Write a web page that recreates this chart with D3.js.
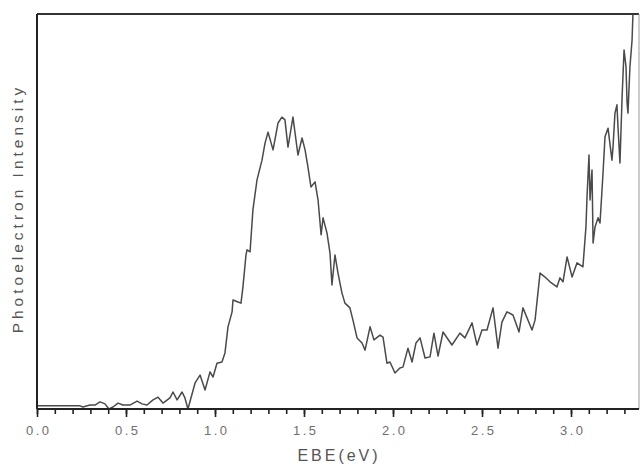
<!DOCTYPE html>
<html>
<head>
<meta charset="utf-8">
<script src="https://cdn.jsdelivr.net/npm/d3@7"></script>
<style>
body{margin:0;background:#fff}
svg text{font-family:"Liberation Sans",Arial,sans-serif}
</style>
</head>
<body>
<div id="chart"></div>
<script>

// binding energy (eV)
const ebe = [0.000,0.242,0.258,0.298,0.326,0.354,0.382,0.404,0.427,0.455,0.483,0.522,0.562,0.590,0.618,0.652,0.680,0.708,0.747,0.764,0.787,0.815,0.831,0.848,0.888,0.916,0.944,0.972,0.989,1.011,1.039,1.056,1.073,1.096,1.101,1.129,1.146,1.157,1.174,1.180,1.197,1.213,1.236,1.264,1.281,1.298,1.326,1.354,1.376,1.393,1.410,1.438,1.466,1.489,1.506,1.522,1.539,1.562,1.579,1.596,1.607,1.629,1.646,1.657,1.674,1.691,1.713,1.730,1.758,1.775,1.798,1.826,1.843,1.871,1.893,1.927,1.944,1.966,1.983,2.011,2.039,2.056,2.084,2.107,2.129,2.152,2.180,2.208,2.230,2.253,2.281,2.331,2.376,2.404,2.444,2.472,2.500,2.528,2.562,2.590,2.612,2.640,2.674,2.708,2.730,2.781,2.798,2.826,2.854,2.882,2.921,2.938,2.955,2.978,3.006,3.034,3.067,3.084,3.090,3.101,3.107,3.118,3.124,3.135,3.152,3.163,3.180,3.191,3.208,3.230,3.236,3.247,3.258,3.264,3.275,3.287,3.298,3.309,3.315,3.320,3.331,3.343,3.348]

// photoelectron intensity (arbitrary units, 0-100)
const intensity = [0.8,0.8,0.5,1.0,1.0,1.8,1.3,0.0,0.5,1.5,1.0,1.0,2.0,1.3,1.0,2.3,3.0,1.5,2.8,4.3,2.3,4.3,2.8,0.0,6.6,8.6,4.8,9.4,8.1,11.6,11.9,14.2,20.8,24.6,27.6,27.1,26.8,30.9,39.0,40.3,39.8,50.4,58.0,63.0,67.3,70.1,65.6,72.4,73.9,73.2,66.3,73.9,64.3,68.6,65.6,61.3,56.2,57.5,52.9,44.1,48.4,44.6,39.5,31.4,39.0,34.4,29.4,26.8,25.6,22.5,18.0,16.7,14.9,20.8,17.5,18.7,18.2,11.6,11.9,9.1,10.4,10.6,15.4,11.9,16.7,18.0,12.9,13.2,19.2,13.4,19.5,16.2,19.2,18.0,21.8,16.2,20.0,20.0,25.6,15.4,22.0,24.6,23.8,19.5,25.6,20.0,22.5,34.4,33.4,32.2,30.9,33.2,32.2,38.5,33.4,37.0,36.0,46.1,53.7,64.3,52.9,60.5,42.0,46.1,48.4,47.1,59.8,68.9,71.1,63.0,66.3,74.9,77.0,71.4,62.3,79.0,90.9,86.6,77.5,74.9,86.6,93.4,100]

const majorTicks = [0.0,0.5,1.0,1.5,2.0,2.5,3.0]
const minorTicks = d3.range(0,34).map(i=>i/10)

const xTitle = "EBE(eV)"
const yTitle = "Photoelectron Intensity"

const width = 642
const height = 464
const margin = {top:14,right:3,bottom:55,left:37}

const svg = d3.select("#chart")
.append("svg")
.attr("width",width)
.attr("height",height)

const x = d3.scaleLinear()
.domain([0,3.382])
.range([margin.left,width-margin.right])

const y = d3.scaleLinear()
.domain([0,100])
.range([height-margin.bottom,margin.top])

const data = ebe.map((e,i)=>({x:e,y:intensity[i]}))

// curve
const line = d3.line()
.x(d=>x(d.x))
.y(d=>y(d.y))

svg.append("path")
.datum(data)
.attr("d",line)
.attr("fill","none")
.attr("stroke","#4a4a4a")
.attr("stroke-width",1.5)
.attr("stroke-linejoin","round")

// frame
svg.append("line")
.attr("x1",x(0)).attr("x2",x.range()[1])
.attr("y1",y(100)).attr("y2",y(100))
.attr("stroke","#333").attr("stroke-width",2)

svg.append("line")
.attr("x1",x.range()[1]).attr("x2",x.range()[1])
.attr("y1",y(100)).attr("y2",y(0))
.attr("stroke","#999").attr("stroke-width",1)

svg.append("line")
.attr("x1",x(0)).attr("x2",x(0))
.attr("y1",y(100)).attr("y2",y(0))
.attr("stroke","#222").attr("stroke-width",2)

// x axis: minor ticks then major ticks with labels
svg.append("g")
.attr("transform",`translate(0,${y(0)})`)
.call(d3.axisBottom(x).tickValues(minorTicks).tickSize(5).tickFormat(""))
.call(g=>g.select(".domain").remove())
.selectAll("line")
.attr("stroke","#222")
.attr("stroke-width",1.6)

const xAxis = svg.append("g")
.attr("transform",`translate(0,${y(0)})`)
.call(d3.axisBottom(x).tickValues(majorTicks).tickSize(8).tickPadding(9).tickFormat(d3.format(".1f")))

xAxis.select(".domain")
.attr("d",`M${x.range()[0]},0H${x.range()[1]}`)
.attr("stroke","#222")
.attr("stroke-width",2)

xAxis.selectAll(".tick line")
.attr("stroke","#222")
.attr("stroke-width",1.6)

xAxis.selectAll(".tick text")
.attr("fill","#707070")
.attr("font-size","13px")
.attr("letter-spacing","2.5px")
.attr("dx","1.2px")

// titles
svg.append("text")
.attr("x",(x.range()[0]+x.range()[1])/2+1)
.attr("y",height-3)
.attr("text-anchor","middle")
.attr("fill","#555")
.attr("font-size","16px")
.attr("letter-spacing","3px")
.text(xTitle)

svg.append("text")
.attr("transform",`translate(23,${(y(0)+y(100))/2 - 3}) rotate(-90)`)
.attr("text-anchor","middle")
.attr("fill","#555")
.attr("font-size","15.5px")
.attr("letter-spacing","4px")
.text(yTitle)

</script>
</body>
</html>
